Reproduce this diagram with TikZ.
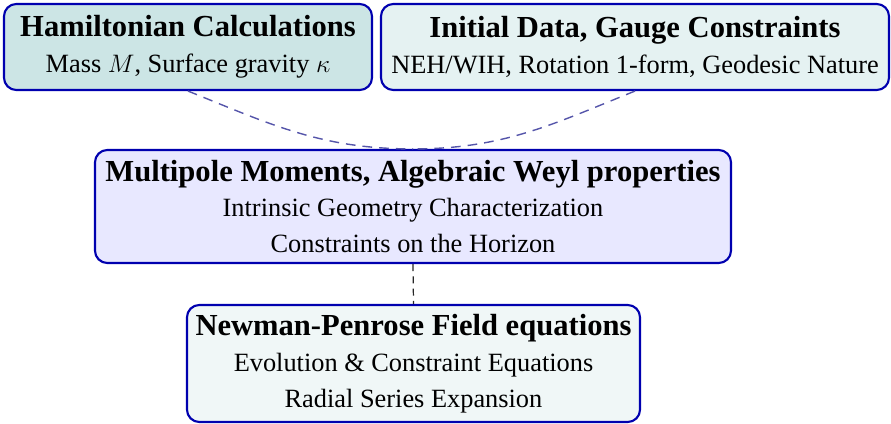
\documentclass[tikz,border=0pt]{standalone}
\usepackage{fontspec}
\setmainfont{Liberation Serif}
\definecolor{edgeblue}{RGB}{0,0,175}
\definecolor{linkblue}{RGB}{85,85,170}
\newcommand{\boxtitle}[1]{{\fontsize{17.4}{20}\selectfont\bfseries #1}}

\begin{document}
\begin{tikzpicture}[
  every node/.style={font=\fontsize{15}{20.4}\selectfont},
  box/.style={draw=edgeblue, line width=1.2pt, rounded corners=7pt, align=center, inner sep=0pt},
  hambox/.style={box, fill=teal!20, minimum width=7.36cm, minimum height=1.72cm},
  databox/.style={box, fill=teal!10, minimum width=10.16cm, minimum height=1.72cm},
  weylbox/.style={box, fill=blue!9, minimum width=12.72cm, minimum height=2.26cm},
  npbox/.style={box, fill=teal!6, minimum width=9.06cm, minimum height=2.34cm},
  link/.style={draw=linkblue, line width=0.8pt, dash pattern=on 5.5pt off 4pt},
  drop/.style={draw=black!85, line width=0.7pt, dash pattern=on 4pt off 3pt}
]
\useasboundingbox (0,0) rectangle (17.82,8.46);

% Nodes
\node[hambox]  (ham)  at (3.76,7.52) {\boxtitle{Hamiltonian Calculations}\\ Mass $M$, Surface gravity $\kappa$};
\node[databox] (init) at (12.70,7.52) {\boxtitle{Initial Data, Gauge Constraints}\\ NEH/WIH, Rotation 1-form, Geodesic Nature};
\node[weylbox] (weyl) at (8.26,4.33) {\boxtitle{Multipole Moments, Algebraic Weyl properties}\\ Intrinsic Geometry Characterization\\ Constraints on the Horizon};
\node[npbox]   (np)   at (8.27,1.19) {\boxtitle{Newman-Penrose Field equations}\\ Evolution \& Constraint Equations\\ Radial Series Expansion};

% Links
\draw[link] (ham.south) to[out=-22, in=180] (weyl.north);
\draw[link] (init.south) to[out=202, in=0] (weyl.north);
\draw[drop] (weyl.south) -- (np.north);

\end{tikzpicture}
\end{document}
